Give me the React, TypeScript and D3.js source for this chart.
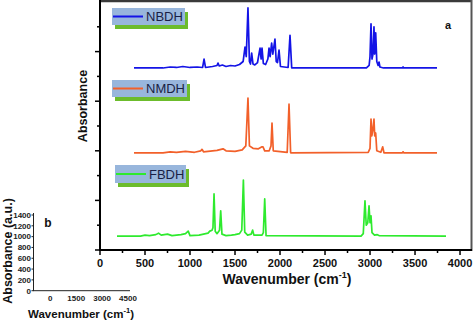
import React from "react";
import * as d3 from "d3";

// ---- Data ----
const nbdhWavenumber = [378, 700, 780, 850, 920, 1000, 1080, 1140, 1156, 1172, 1250, 1300, 1311, 1325, 1360, 1400, 1450, 1500, 1550, 1590, 1611, 1625, 1644, 1660, 1672, 1685, 1700, 1720, 1750, 1778, 1790, 1800, 1815, 1840, 1865, 1878, 1890, 1907, 1920, 1944, 1958, 1972, 1989, 2005, 2090, 2111, 2130, 2960, 2990, 3000, 3011, 3022, 3033, 3044, 3052, 3063, 3075, 3090, 3100, 3110, 3150, 3360, 3367, 3374, 3744];
const nbdhAbsorbance = [3.67, 3.67, 3.69, 3.68, 3.7, 3.68, 3.69, 3.68, 3.85, 3.68, 3.7, 3.72, 3.77, 3.71, 3.73, 3.7, 3.72, 3.71, 3.74, 3.8, 4.09, 3.9, 4.88, 3.8, 3.75, 3.97, 3.75, 3.73, 3.78, 4.07, 3.85, 4.07, 3.76, 3.74, 3.85, 4.07, 3.9, 4.17, 3.95, 4.25, 3.8, 3.78, 4.03, 3.7, 3.68, 4.33, 3.67, 3.67, 3.72, 3.9, 4.56, 3.85, 3.95, 4.5, 3.95, 4.38, 3.8, 3.72, 3.79, 3.69, 3.67, 3.67, 3.69, 3.67, 3.67];

const nmdhWavenumber = [378, 700, 780, 850, 950, 1050, 1120, 1133, 1150, 1300, 1367, 1400, 1500, 1580, 1620, 1644, 1660, 1700, 1760, 1800, 1811, 1830, 1880, 1900, 1911, 1925, 2080, 2100, 2118, 2980, 3000, 3011, 3020, 3030, 3044, 3052, 3063, 3075, 3120, 3141, 3155, 3360, 3367, 3374, 3744];
const nmdhAbsorbance = [1.96, 1.96, 1.98, 1.97, 1.99, 1.97, 2.0, 2.03, 1.98, 2.01, 2.04, 2.0, 1.99, 2.02, 2.1, 3.065, 2.1, 2.05, 2.04, 2.08, 2.08, 2.0, 2.0, 2.1, 2.56, 2.0, 1.97, 2.94, 1.96, 1.97, 2.05, 2.64, 2.3, 2.4, 2.64, 2.3, 2.36, 2.0, 1.97, 2.08, 1.96, 1.96, 1.98, 1.96, 1.96];

const fbdhWavenumber = [189, 450, 500, 550, 620, 650, 680, 750, 800, 850, 900, 950, 980, 1000, 1100, 1150, 1200, 1220, 1245, 1255, 1267, 1280, 1300, 1328, 1341, 1355, 1400, 1460, 1500, 1550, 1575, 1593, 1608, 1640, 1680, 1696, 1710, 1800, 1815, 1830, 1845, 2900, 2925, 2944, 2958, 2975, 2989, 3000, 3011, 3022, 3050, 3080, 3100, 3844];
const fbdhAbsorbance = [0.28, 0.28, 0.3, 0.29, 0.31, 0.34, 0.3, 0.32, 0.29, 0.3, 0.31, 0.33, 0.38, 0.29, 0.3, 0.32, 0.34, 0.38, 0.4, 0.45, 1.13, 0.38, 0.33, 0.4, 0.79, 0.32, 0.29, 0.3, 0.31, 0.33, 0.4, 1.41, 0.36, 0.3, 0.32, 0.4, 0.3, 0.3, 0.35, 1.03, 0.29, 0.28, 0.33, 0.99, 0.5, 0.55, 0.89, 0.55, 0.69, 0.35, 0.3, 0.31, 0.29, 0.28];

const seriesNames = ["NBDH", "NMDH", "FBDH"];
const seriesColors = ["#1414e6", "#f2602a", "#2eea2e"];

const mainXTicks = [0, 500, 1000, 1500, 2000, 2500, 3000, 3500, 4000];
const mainXMinor = [250, 750, 1250, 1750, 2250, 2750, 3250, 3750];
const mainYMajor = [0, 1, 2, 3, 4];
const mainYMinor = [0.5, 1.5, 2.5, 3.5, 4.5];

const insetXTicks = [0, 1500, 3000, 4500];
const insetYTicks = [0, 200, 400, 600, 800, 1000, 1200, 1400];

const FONT = "'Liberation Sans', Arial, sans-serif";

export default function App() {
  const x = d3.scaleLinear().domain([0, 4133]).range([100, 472]);
  const y = d3.scaleLinear().domain([0, 5]).range([250, 2]);

  const series = [
    { wn: nbdhWavenumber, ab: nbdhAbsorbance },
    { wn: nmdhWavenumber, ab: nmdhAbsorbance },
    { wn: fbdhWavenumber, ab: fbdhAbsorbance },
  ];

  const line = d3
    .line<[number, number]>()
    .x((d) => x(d[0]))
    .y((d) => y(d[1]));

  const legendBoxes = [
    { bx: 112, by: 8, w: 73, h: 17 },
    { bx: 112, by: 80, w: 75, h: 17 },
    { bx: 115, by: 165, w: 71, h: 18 },
  ];

  const ix = d3.scaleLinear().domain([-1000, 4500]).range([33, 128]);
  const iy = d3.scaleLinear().domain([0, 1400]).range([290.7, 215]);

  return (
    <svg
      width={474}
      height={322}
      style={{ position: "absolute", left: 0, top: 0, background: "#fff" }}
      fontFamily={FONT}
    >
      <rect x={0} y={0} width={474} height={322} fill="#fff" />
      {/* frame top/right */}
      <line x1={99} y1={1} x2={472} y2={1} stroke="#3a3a3a" strokeWidth={2.5} />
      <line x1={471.5} y1={0} x2={471.5} y2={251} stroke="#555" strokeWidth={2} />

      {/* spectra */}
      {series.map((s, i) => (
        <path
          key={seriesNames[i]}
          d={line(s.wn.map((w, j) => [w, s.ab[j]] as [number, number])) || ""}
          fill="none"
          stroke={seriesColors[i]}
          strokeWidth={1.7}
          strokeLinejoin="round"
        />
      ))}

      {/* axes */}
      <line x1={100} y1={0} x2={100} y2={251} stroke="#000" strokeWidth={2} />
      <line x1={99} y1={250} x2={472} y2={250} stroke="#000" strokeWidth={2} />
      {mainXTicks.map((t) => (
        <g key={"xt" + t}>
          <line x1={x(t)} x2={x(t)} y1={250} y2={255} stroke="#000" strokeWidth={1.5} />
          <text
            x={x(t)}
            y={267}
            textAnchor="middle"
            fontSize={11}
            fontWeight="bold"
            fill="#111"
          >
            {t}
          </text>
        </g>
      ))}
      {mainXMinor.map((t) => (
        <line key={"xm" + t} x1={x(t)} x2={x(t)} y1={250} y2={253} stroke="#000" strokeWidth={1.5} />
      ))}
      {mainYMajor.map((t) => (
        <line key={"ym" + t} x1={95} x2={100} y1={y(t)} y2={y(t)} stroke="#000" strokeWidth={1.5} />
      ))}
      {mainYMinor.map((t) => (
        <line key={"yn" + t} x1={97} x2={100} y1={y(t)} y2={y(t)} stroke="#000" strokeWidth={1.5} />
      ))}

      <text
        transform="translate(87,106) rotate(-90)"
        textAnchor="middle"
        fontSize={12.5}
        fontWeight="bold"
        fill="#111"
      >
        Absorbance
      </text>
      <text x={287} y={284} textAnchor="middle" fontSize={14} fontWeight="bold" fill="#111">
        Wavenumber (cm
        <tspan fontSize={9} dy={-6}>-1</tspan>
        <tspan dy={6}>)</tspan>
      </text>
      <text x={448} y={29} textAnchor="middle" fontSize={11} fontWeight="bold" fill="#111">
        a
      </text>

      {/* legends */}
      {legendBoxes.map((b, i) => (
        <g key={"lg" + i}>
          <rect x={b.bx + 3} y={b.by + 4} width={b.w} height={b.h} fill="#6cbc2c" />
          <rect x={b.bx} y={b.by} width={b.w} height={b.h} fill="#98b6dc" />
          <line
            x1={b.bx + 1}
            x2={b.bx + 31}
            y1={b.by + b.h / 2}
            y2={b.by + b.h / 2}
            stroke={seriesColors[i]}
            strokeWidth={2}
          />
          <text
            x={b.bx + 34}
            y={b.by + b.h / 2 + 4.6}
            fontSize={13}
            fill="#1a1f45"
          >
            {seriesNames[i]}
          </text>
        </g>
      ))}

      {/* inset b */}
      <line x1={33.5} y1={213} x2={33.5} y2={291} stroke="#222" strokeWidth={1} />
      <line x1={33} y1={290.7} x2={130} y2={290.7} stroke="#222" strokeWidth={1} />
      {insetYTicks.map((t) => (
        <g key={"iy" + t}>
          <line x1={31.5} x2={33.5} y1={iy(t)} y2={iy(t)} stroke="#222" strokeWidth={1} />
          <text
            x={31}
            y={iy(t) + 2.8}
            textAnchor="end"
            fontSize={8}
            fontWeight="bold"
            fill="#222"
          >
            {t}
          </text>
        </g>
      ))}
      {insetXTicks.map((t) => (
        <text
          key={"ix" + t}
          x={ix(t)}
          y={301}
          textAnchor="middle"
          fontSize={8}
          fontWeight="bold"
          fill="#222"
        >
          {t}
        </text>
      ))}
      <text
        transform="translate(12,251) rotate(-90)"
        textAnchor="middle"
        fontSize={12.5}
        fontWeight="bold"
        fill="#111"
      >
        Absorbance (a.u.)
      </text>
      <text x={81} y={318} textAnchor="middle" fontSize={11.5} fontWeight="bold" fill="#111">
        Wavenumber (cm
        <tspan fontSize={7.5} dy={-5}>-1</tspan>
        <tspan dy={5}>)</tspan>
      </text>
      <text x={48} y={227} textAnchor="middle" fontSize={12} fontWeight="bold" fill="#111">
        b
      </text>
    </svg>
  );
}
